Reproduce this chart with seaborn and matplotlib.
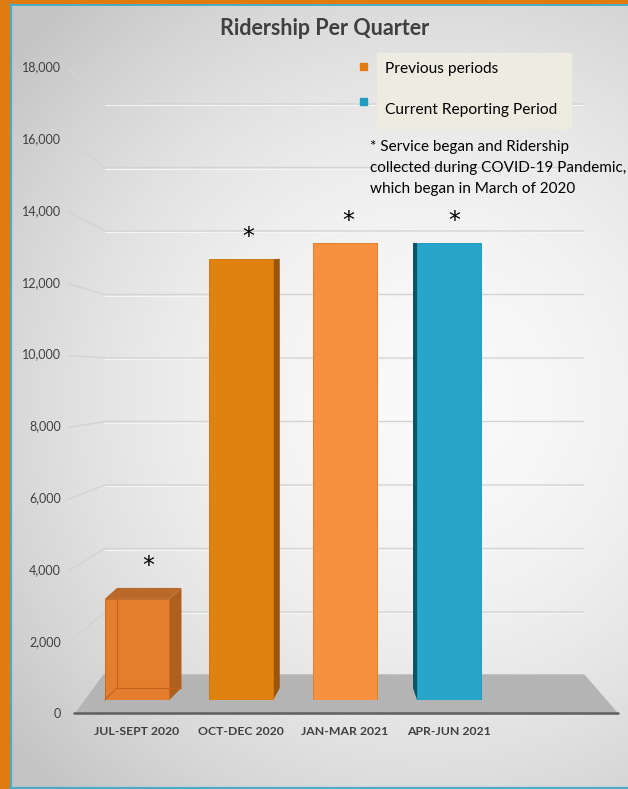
import numpy as np
import pandas as pd
import matplotlib
matplotlib.use("Agg")
import matplotlib.pyplot as plt
from matplotlib.patches import Polygon, Rectangle
from matplotlib.transforms import IdentityTransform
import seaborn as sns

# ---- data ----
quarters = ["JUL-SEPT 2020", "OCT-DEC 2020", "JAN-MAR 2021", "APR-JUN 2021"]
riders = [2930, 12780, 13250, 13240]
period_type = ["Previous periods", "Previous periods", "Previous periods", "Current Reporting Period"]
y_ticks = list(range(0, 18001, 2000))
title = "Ridership Per Quarter"
legend_labels = ["Previous periods", "Current Reporting Period"]
note_lines = ["* Service began and Ridership",
              "collected during COVID-19 Pandemic,",
              "which began in March of 2020"]

# ---- styles ----
front_cols = ["#E47D2E", "#E0820F", "#F7903F", "#2AA5CA"]
side_cols = ["#B0601E", "#9A560A", "#C96F2A", "#0D5468"]
top_cols = ["#B96A2A", "#C7730E", "#F29A55", "#39AFD2"]
edge_cols = ["#C9691F", "#D07810", "#E07E30", "#2398BB"]
legend_cols = ["#E07B10", "#1F9CC0"]
TXT = "#404040"
W, H = 628, 789

sns.set_theme(style="white")
plt.rcParams["font.family"] = ["Lato", "DejaVu Sans"]

fig = plt.figure(figsize=(W / 100, H / 100), dpi=100)

# background axes in pixel coordinates
bg = fig.add_axes([0, 0, 1, 1])
bg.set_xlim(0, W)
bg.set_ylim(H, 0)
bg.axis("off")
yy, xx = np.mgrid[0:H, 0:W]
d = np.sqrt((xx - 430) ** 2 + (yy - 400) ** 2) / 540.0
d = np.clip(d, 0, 1)
val = 0.98 - 0.21 * d ** 1.8
img = np.dstack([val, val, val])
bg.imshow(img, extent=[0, W, H, 0], aspect="auto", zorder=0)

# borders
bg.add_patch(Rectangle((0, 0), 9.5, H, color="#E07B10", zorder=5))
bg.add_patch(Rectangle((0, 0), W, 3.5, color="#E07B10", zorder=5))
bg.plot([10.5, 10.5], [4, H - 2], color="#4BACC6", lw=1.6, zorder=6)
bg.plot([10, W], [4.5, 4.5], color="#4BACC6", lw=1.4, zorder=6)
bg.plot([10, W], [787.5, 787.5], color="#4BACC6", lw=1.6, zorder=6)

# tick axes (front plane)
ax_t = fig.add_axes([65 / W, 1 - 713 / H, (615 - 65) / W, (713 - 66) / H])
ax_t.set_facecolor("none")
ax_t.set_ylim(0, 18000)
ax_t.set_xlim(0, 1)
ax_t.set_yticks(y_ticks)
ax_t.set_yticklabels([f"{v:,}" for v in y_ticks], fontsize=9, color=TXT)
ax_t.tick_params(axis="y", length=0, pad=3)
ax_t.set_xticks([])
for s in ax_t.spines.values():
    s.set_visible(False)

# floor & 3D gridlines (decoration, pixel coords)
floor = Polygon([(76, 713), (617, 713), (584, 675), (104, 675)],
                closed=True, color="#B4B4B4", zorder=1)
bg.add_patch(floor)
for v in y_ticks[1:]:
    yf = 713 - v * (713 - 66) / 18000
    yb = 675.5 - v * (675.5 - 104) / 18000
    bg.plot([68, 105, 584], [yf + 2, yb, yb], color="#D3D3D3", lw=1.0, zorder=2)
    bg.plot([105, 584], [yb + 1, yb + 1], color="#F5F5F5", lw=0.8, zorder=2)
bg.plot([74, 618], [713, 713], color="#5E5E5E", lw=1.8, zorder=3)

# bar axes (bars sit on floor)
ax = fig.add_axes([60 / W, 1 - 700 / H, (615 - 60) / W, (700 - 40) / H])
ax.set_facecolor("none")
df = pd.DataFrame({"quarter": quarters, "riders": riders, "type": period_type})
sns.barplot(data=df, x="quarter", y="riders", hue="quarter", palette=front_cols,
            width=0.62, saturation=1, legend=False, ax=ax, zorder=3)
ax.set_ylim(0, (700 - 40) / 69 * 2000)
ax.set_xlim(-0.74, 4.596)
ax.set_ylabel("")
ax.set_xlabel("")
ax.set_yticks([])
ax.set_xticks(range(len(quarters)))
ax.set_xticklabels(quarters, fontsize=8.8, fontweight="bold", color=TXT)
ax.tick_params(axis="x", length=0, pad=19)
for s in ax.spines.values():
    s.set_visible(False)

ident = IdentityTransform()
for i, p in enumerate(ax.patches):
    p.set_edgecolor(edge_cols[i])
    p.set_linewidth(0.7)
    (x0, y0), (x1, y1) = ax.transData.transform([(p.get_x(), 0),
                                                   (p.get_x() + p.get_width(), p.get_height())])
    cx = (x0 + x1) / 2
    dx = 0.055 * (360 - cx)
    if dx < 0:
        dx *= 0.7
    top_img = H - y1
    dyt = max(0.0, 0.0315 * (top_img - 250))
    dyb = 12
    if dx > 0.8:
        side = [(x1, y0), (x1, y1), (x1 + dx, y1 + dyt), (x1 + dx, y0 + dyb)]
    elif dx < -0.8:
        side = [(x0, y0), (x0, y1), (x0 + dx, y1 + dyt), (x0 + dx, y0 + dyb)]
    else:
        side = None
    if side:
        ax.add_patch(Polygon(side, closed=True, facecolor=side_cols[i], edgecolor="none",
                             transform=ident, clip_on=False, zorder=2.5))
    if dyt > 1:
        top = [(x0, y1), (x1, y1), (x1 + dx, y1 + dyt), (x0 + dx, y1 + dyt)]
        ax.add_patch(Polygon(top, closed=True, facecolor=top_cols[i], edgecolor="none",
                             transform=ident, clip_on=False, zorder=2.5))
        # faint inner back edges (translucent look)
        ax.plot([x0 + dx, x0 + dx, x1 + dx], [y1 + dyt, y0 + dyb, y0 + dyb],
                color="#C4641C", lw=0.8, transform=ident, clip_on=False, zorder=3.5)
        ax.plot([x0, x0 + dx], [y0, y0 + dyb], color="#C4641C", lw=0.8,
                transform=ident, clip_on=False, zorder=3.5)
    # asterisk
    ax.text(cx + abs(dx) * 0.7 + 3, y1 + dyt + 22, "*", transform=ident, ha="center",
            va="center", fontsize=17, color="black", family="DejaVu Sans", zorder=6)

# title
bg.text(325, 28, title, ha="center", va="center", fontsize=15.5, fontweight="bold", color=TXT)

# legend (manual)
bg.add_patch(Rectangle((377, 53), 194, 75, color="#EEECE1", zorder=4))
bg.add_patch(Rectangle((359.5, 62.5), 7, 7, color=legend_cols[0], zorder=4))
bg.add_patch(Rectangle((359.5, 97.5), 7, 7, color=legend_cols[1], zorder=4))
bg.text(385, 69, legend_labels[0], ha="left", va="center", fontsize=11.2, color="black", zorder=5)
bg.text(385, 110, legend_labels[1], ha="left", va="center", fontsize=11.2, color="black", zorder=5)

for k, line in enumerate(note_lines):
    bg.text(370, 147 + k * 21, line, ha="left", va="center", fontsize=11, color="black", zorder=5)

fig.savefig("out.png", dpi=100)
